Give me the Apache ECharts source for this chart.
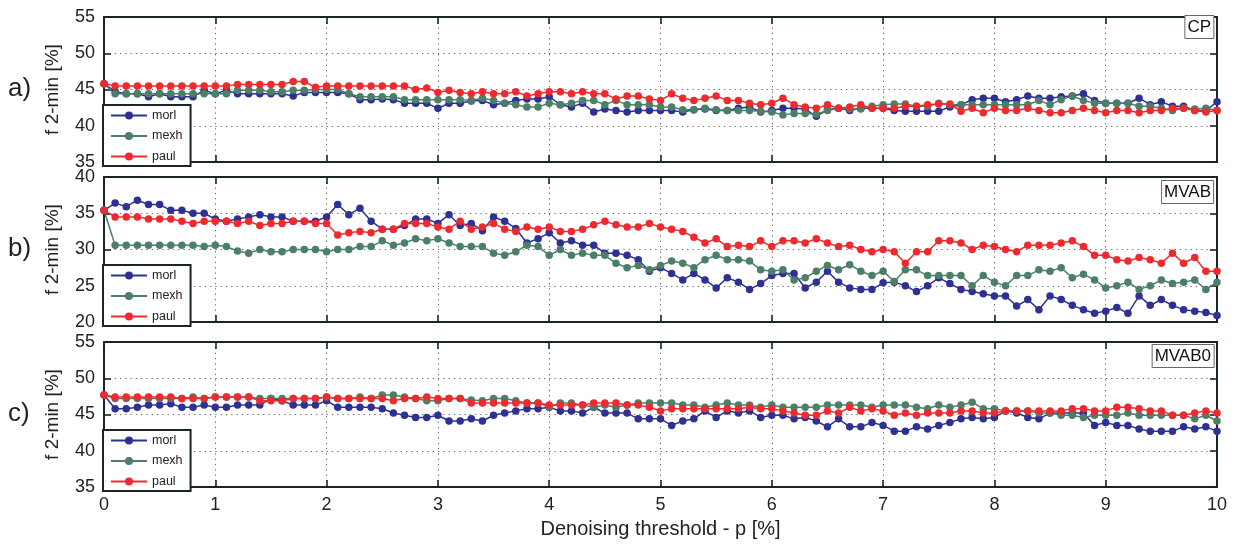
<!DOCTYPE html>
<html><head><meta charset="utf-8">
<script src="https://cdn.jsdelivr.net/npm/echarts@6/dist/echarts.min.js"></script>
<style>html,body{margin:0;padding:0;background:#fff}#c{width:1236px;height:546px}</style>
</head><body><div id="c"></div>
<script>
// x values: denoising threshold p [%]
const xs = [0,0.1,0.2,0.3,0.4,0.5,0.6,0.7,0.8,0.9,1,1.1,1.2,1.3,1.4,1.5,1.6,1.7,1.8,1.9,2,2.1,2.2,2.3,2.4,2.5,2.6,2.7,2.8,2.9,3,3.1,3.2,3.3,3.4,3.5,3.6,3.7,3.8,3.9,4,4.1,4.2,4.3,4.4,4.5,4.6,4.7,4.8,4.9,5,5.1,5.2,5.3,5.4,5.5,5.6,5.7,5.8,5.9,6,6.1,6.2,6.3,6.4,6.5,6.6,6.7,6.8,6.9,7,7.1,7.2,7.3,7.4,7.5,7.6,7.7,7.8,7.9,8,8.1,8.2,8.3,8.4,8.5,8.6,8.7,8.8,8.9,9,9.1,9.2,9.3,9.4,9.5,9.6,9.7,9.8,9.9,10];
const seriesNames = ['morl','mexh','paul'];
const panelTags = ['CP','MVAB','MVAB0'];
const panelLabels = ['a)','b)','c)'];
const yMins = [35,20,35];
const yMaxs = [55,40,55];

// panel a) CP
const aMorl = [45.8,44.7,44.4,44.4,44.0,44.4,44.0,44.0,44.0,44.9,
 44.4,44.9,44.4,44.4,44.4,44.4,44.4,44.1,44.6,44.6,
 44.6,44.6,44.4,43.6,43.6,43.7,43.6,43.1,43.1,43.1,
 42.4,43.1,43.1,43.4,43.5,42.9,43.1,43.5,43.7,43.7,
 44.0,42.9,42.6,43.1,41.9,42.3,42.1,41.9,42.1,42.1,
 42.1,42.1,41.9,42.2,42.3,42.1,42.1,42.4,42.6,41.9,
 42.1,42.4,42.4,42.3,41.3,42.2,42.4,42.1,42.4,42.4,
 42.4,42.1,42.0,42.0,42.0,42.0,42.6,42.9,43.6,43.8,
 43.8,43.3,43.6,44.1,43.8,43.8,44.0,44.1,44.4,43.5,
 43.1,43.1,43.1,43.8,42.9,43.3,42.7,42.7,42.1,42.1,
 43.3];
const aMexh = [45.8,44.4,44.4,44.4,44.4,44.4,44.4,44.4,44.4,44.4,
 44.4,44.4,44.9,44.9,44.9,44.7,44.7,44.9,44.9,45.0,
 45.0,45.0,44.4,44.0,44.0,44.0,44.0,43.6,43.6,43.6,
 43.6,43.6,43.6,43.5,43.8,43.5,43.1,42.9,42.6,42.6,
 43.1,42.9,43.1,43.5,43.5,42.9,43.5,42.9,42.9,42.9,
 42.6,42.6,42.2,42.2,42.4,42.2,42.1,42.1,42.1,42.0,
 41.9,41.5,41.7,41.7,41.6,42.1,42.4,42.3,42.3,42.7,
 42.9,43.0,43.0,42.7,42.7,43.1,42.9,42.9,42.9,42.9,
 42.9,42.9,42.9,42.9,43.5,42.9,43.6,44.1,43.5,43.1,
 43.1,43.1,43.1,42.7,42.7,42.4,42.1,42.4,42.3,42.4,
 42.1];
const aPaul = [45.8,45.5,45.5,45.5,45.5,45.5,45.5,45.5,45.5,45.5,
 45.5,45.5,45.7,45.7,45.7,45.7,45.7,46.1,46.1,45.3,
 45.5,45.5,45.5,45.5,45.5,45.5,45.5,45.5,45.0,45.2,
 44.6,44.9,44.6,44.4,44.7,44.4,44.4,44.7,44.1,44.4,
 44.7,44.7,44.4,44.7,44.4,44.4,43.7,44.1,44.1,43.7,
 43.5,44.4,43.8,43.5,43.8,44.1,43.5,43.5,43.1,42.9,
 43.1,43.8,42.9,42.6,42.4,42.9,42.4,42.6,42.9,42.4,
 42.4,42.4,42.7,42.7,42.9,43.0,43.0,42.0,42.4,41.8,
 42.4,42.1,42.1,42.4,42.1,41.8,41.8,42.1,42.4,42.1,
 41.8,42.1,42.1,41.8,42.1,42.1,42.4,42.4,42.1,41.9,
 42.1];
// panel b) MVAB
const bMorl = [35.4,36.4,35.9,36.8,36.2,36.2,35.4,35.4,35.0,35.0,
 34.2,33.9,34.2,34.5,34.8,34.5,34.5,33.9,33.9,33.9,
 34.5,36.2,34.8,35.7,33.9,32.8,32.8,33.3,34.2,34.2,
 33.6,34.8,33.3,33.6,32.6,34.5,33.9,32.9,30.9,31.5,
 32.3,30.9,31.2,30.6,30.6,29.5,29.5,29.2,28.6,27.0,
 27.5,26.7,25.8,26.7,25.8,24.7,26.1,25.5,24.5,25.3,
 26.4,26.7,26.7,24.7,25.5,27.0,25.5,24.7,24.5,24.5,
 25.4,25.5,25.0,24.2,25.0,26.1,25.3,24.5,24.2,23.9,
 23.6,23.6,22.2,23.1,21.7,23.6,23.1,22.3,21.7,21.2,
 21.5,22.0,21.2,23.6,22.3,23.1,22.3,21.7,21.5,21.3,
 20.9];
const bMexh = [35.4,30.6,30.6,30.6,30.6,30.6,30.6,30.6,30.6,30.4,
 30.6,30.4,29.8,29.5,30.0,29.7,29.7,30.0,30.0,30.0,
 29.7,30.0,30.0,30.4,30.4,31.2,30.6,30.9,31.5,31.2,
 31.5,30.9,30.4,30.4,30.4,29.5,29.2,29.7,30.6,30.4,
 29.2,30.0,29.2,29.5,29.2,29.2,28.1,27.5,27.8,27.2,
 27.8,28.4,28.1,27.5,28.6,29.2,28.6,28.6,28.4,27.2,
 27.0,27.2,25.8,26.1,27.0,27.8,27.2,27.9,27.0,26.4,
 27.0,25.6,27.2,27.2,26.4,26.4,26.4,26.4,25.0,26.4,
 25.5,25.0,26.4,26.4,27.2,27.0,27.5,26.1,26.6,25.8,
 24.7,25.0,25.5,24.5,25.0,25.8,25.3,25.5,25.8,24.5,
 25.5];
const bPaul = [35.4,34.5,34.5,34.5,34.2,34.2,34.2,33.9,33.6,33.9,
 33.9,33.9,33.6,33.9,33.3,33.6,33.6,33.9,33.9,33.6,
 33.6,32.0,32.3,32.5,32.3,32.8,32.8,33.6,33.6,33.6,
 33.1,32.8,33.9,32.8,33.1,33.6,32.8,32.5,33.1,32.8,
 33.1,32.5,32.5,32.8,33.4,33.9,33.4,33.1,33.1,33.6,
 33.1,32.8,32.5,31.7,30.9,31.5,30.4,30.6,30.4,31.2,
 30.4,31.2,31.2,30.9,31.5,30.9,30.4,30.6,30.0,29.7,
 30.0,29.7,28.1,29.7,29.7,31.2,31.2,30.9,30.0,30.6,
 30.4,30.0,29.7,30.6,30.6,30.6,30.9,31.2,30.4,29.2,
 29.2,28.6,28.4,28.9,28.6,28.1,29.5,28.1,28.9,27.0,
 27.0];
// panel c) MVAB0
const cMorl = [47.7,45.8,45.8,46.0,46.3,46.3,46.5,46.0,46.0,46.3,
 46.0,46.0,46.3,46.3,46.3,47.2,46.9,46.3,46.3,46.3,
 46.9,46.0,46.0,46.0,46.0,45.8,45.2,44.9,44.6,44.6,
 44.9,44.1,44.1,44.4,44.1,44.9,45.2,45.5,45.8,45.8,
 46.0,45.5,45.5,45.2,46.0,45.2,45.2,45.2,44.4,44.4,
 44.4,43.5,44.1,44.4,45.5,44.6,45.5,45.2,45.5,44.6,
 44.9,44.9,44.4,44.6,44.1,43.3,44.4,43.3,43.3,43.9,
 43.5,42.7,42.7,43.3,43.0,43.5,43.9,44.4,44.6,44.4,
 44.6,45.5,45.2,44.6,44.4,45.2,45.2,45.2,45.2,43.5,
 43.9,43.5,43.5,43.0,42.7,42.7,42.7,43.3,43.0,43.3,
 42.7];
const cMexh = [47.7,47.2,47.2,47.2,47.2,47.2,47.2,47.2,47.4,47.2,
 47.4,47.4,47.4,47.4,47.2,47.2,47.2,47.2,47.2,47.2,
 47.4,47.2,47.2,47.4,47.2,47.7,47.7,47.4,47.2,46.9,
 46.9,47.2,47.2,47.0,46.9,47.2,47.2,46.9,46.6,46.6,
 46.0,46.6,46.6,46.3,46.0,46.3,46.0,46.3,46.6,46.6,
 46.6,46.6,46.3,46.3,46.0,46.3,46.6,46.3,46.3,46.0,
 46.3,46.0,46.0,46.0,46.0,46.3,46.3,46.3,46.3,46.0,
 46.3,46.3,46.3,46.0,45.8,46.3,46.0,46.3,46.7,45.8,
 45.8,45.5,45.5,45.5,45.2,45.2,44.9,44.9,44.6,44.9,
 44.9,44.9,45.2,44.9,44.9,44.9,44.9,44.9,44.4,44.9,
 44.1];
const cPaul = [47.7,47.4,47.4,47.4,47.4,47.4,47.4,47.2,47.2,47.2,
 47.4,47.4,47.4,47.4,46.9,46.9,46.9,47.2,47.2,47.2,
 47.4,47.2,47.2,47.2,47.2,47.2,46.9,47.2,47.2,47.4,
 47.2,47.2,47.2,46.6,46.6,46.6,46.6,46.6,46.6,46.6,
 46.3,46.3,46.3,46.3,46.6,46.6,46.6,46.3,46.3,46.0,
 45.5,45.8,45.8,45.8,45.8,45.8,45.8,45.8,46.0,45.8,
 45.8,45.5,45.2,44.9,44.9,45.5,45.2,46.0,45.5,45.8,
 45.5,44.9,45.2,44.9,45.2,45.2,45.2,45.5,45.5,45.2,
 45.2,45.5,45.5,45.5,45.5,45.5,45.5,45.8,45.8,45.5,
 45.5,46.0,46.0,45.8,45.5,45.5,44.9,44.9,45.2,45.5,
 45.2];

const panelData = [[aMorl,aMexh,aPaul],[bMorl,bMexh,bPaul],[cMorl,cMexh,cPaul]];
const colors = ['#2e3192','#4c7f68','#ee2a2e'];
const axisColor = '#1a2626';
const FONT = '"Liberation Sans", Arial, Helvetica, sans-serif';
const tops = [17,177,342];
const H = 145;
const L = 104, R = 19;

const grid = [], xAxis = [], yAxis = [], series = [], legend = [], title = [], graphic = [];
const axLine = {show:true, onZero:false, lineStyle:{color:axisColor, width:2}};
const tick = {show:true, inside:true, length:7, lineStyle:{color:axisColor, width:1.6}};
const dotted = {show:true, lineStyle:{type:[1.3,4], color:'#6a6a6a', width:1}};

for (let k = 0; k < 3; k++) {
  grid.push({left:L, right:R, top:tops[k], height:H, containLabel:false});
  xAxis.push({gridIndex:k, type:'value', min:0, max:10, interval:1, position:'bottom',
    axisLine:axLine, axisTick:tick,
    axisLabel:{show:k===2, fontSize:18, color:'#222', margin:9, fontFamily:FONT},
    splitLine:dotted,
    name: k===2 ? 'Denoising threshold - p [%]' : '',
    nameLocation:'middle', nameGap:32,
    nameTextStyle:{fontSize:20, color:'#222', fontFamily:FONT}});
  xAxis.push({gridIndex:k, type:'value', min:0, max:10, interval:1, position:'top',
    axisLine:axLine, axisTick:tick, axisLabel:{show:false}, splitLine:{show:false}});
  yAxis.push({gridIndex:k, type:'value', min:yMins[k], max:yMaxs[k], interval:5, position:'left',
    axisLine:axLine, axisTick:tick,
    axisLabel:{fontSize:18, color:'#222', margin:9, fontFamily:FONT},
    splitLine:dotted,
    name:'f 2-min [%]', nameLocation:'middle', nameGap:42,
    nameTextStyle:{fontSize:19, color:'#222', fontFamily:FONT}});
  yAxis.push({gridIndex:k, type:'value', min:yMins[k], max:yMaxs[k], interval:5, position:'right',
    axisLine:axLine, axisTick:tick, axisLabel:{show:false}, splitLine:{show:false}});
  for (let j = 0; j < 3; j++) {
    const vals = panelData[k][j];
    series.push({type:'line', name:seriesNames[j], xAxisIndex:2*k, yAxisIndex:2*k,
      data: xs.map((x,i)=>[x, vals[i]]),
      symbol:'circle', symbolSize:7.5, showSymbol:true,
      lineStyle:{width:1.5, color:colors[j]}, itemStyle:{color:colors[j]},
      emphasis:{disabled:true}, animation:false, z:3});
  }
  legend.push({data:seriesNames, orient:'vertical', left:L-1, top:tops[k]+H-57,
    backgroundColor:'#fff', borderColor:axisColor, borderWidth:2, borderRadius:0,
    padding:[4,8,3,7], itemWidth:36, itemHeight:10, itemGap:7.5, z:10,
    textStyle:{fontSize:12.5, color:'#222', fontFamily:FONT}, selectedMode:false});
  title.push({text:panelTags[k], right:22, top:[15,180,344][k],
    backgroundColor:'#fff', borderColor:'#666', borderWidth:1, padding:[4,3,3,3], z:10,
    textStyle:{fontSize:17, fontWeight:'normal', color:'#111', fontFamily:FONT}});
  graphic.push({type:'text', x:8, y:tops[k]+H/2-1, z:10,
    style:{text:panelLabels[k], fontSize:26, fill:'#222', fontFamily:FONT, verticalAlign:'middle'}});
}

const chart = echarts.init(document.getElementById('c'), null, {renderer:'canvas'});
chart.setOption({animation:false, backgroundColor:'#fff', grid, xAxis, yAxis, series, legend, title, graphic});
</script></body></html>
